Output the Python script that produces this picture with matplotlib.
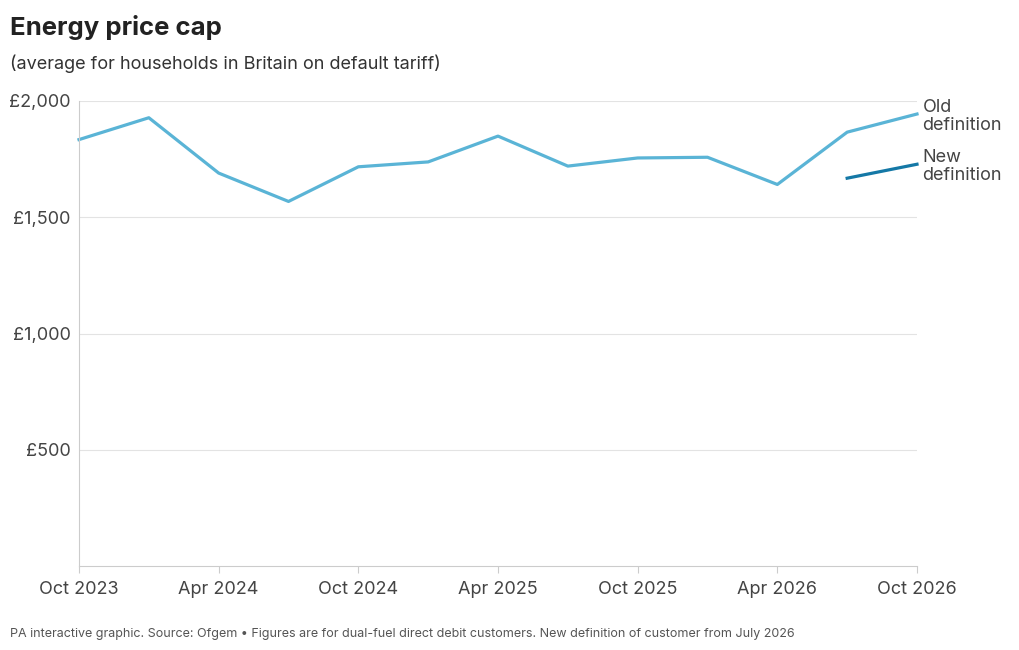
import matplotlib
matplotlib.use("Agg")
import matplotlib.pyplot as plt

plt.rcParams['font.family'] = ['Inter', 'DejaVu Sans']

quarters = ["Oct 2023", "Jan 2024", "Apr 2024", "Jul 2024", "Oct 2024", "Jan 2025",
            "Apr 2025", "Jul 2025", "Oct 2025", "Jan 2026", "Apr 2026", "Jul 2026", "Oct 2026"]
old_def = [1834, 1928, 1690, 1568, 1717, 1738, 1849, 1720, 1755, 1758, 1641, 1866, 1944]
new_def = [1668, 1728]
new_start = 11
tick_labels = ["Oct 2023", "Apr 2024", "Oct 2024", "Apr 2025", "Oct 2025", "Apr 2026", "Oct 2026"]
y_ticks = [500, 1000, 1500, 2000]
y_labels = ["£500", "£1,000", "£1,500", "£2,000"]

fig = plt.figure(figsize=(10.2, 6.5), dpi=100)
ax = fig.add_axes([79 / 1020, 1 - 566 / 650, (917 - 79) / 1020, (566 - 101) / 650])

x = list(range(len(old_def)))
ax.plot(x, old_def, color="#5ab4d6", lw=2.3, clip_on=False)
ax.plot(range(new_start, new_start + len(new_def)), new_def, color="#1478a6", lw=2.3, clip_on=False)

ax.set_xlim(0, len(old_def) - 1)
ax.set_ylim(0, 2000)
ax.set_yticks(y_ticks, y_labels)
ax.set_xticks([quarters.index(t) for t in tick_labels], tick_labels)
ax.grid(axis="y", color="#e3e3e3", lw=0.8)
ax.set_axisbelow(True)
for s in ["top", "right"]:
    ax.spines[s].set_visible(False)
for s in ["left", "bottom"]:
    ax.spines[s].set_color("#cccccc")
ax.tick_params(axis="y", length=0, pad=6, labelsize=13, labelcolor="#444444")
ax.tick_params(axis="x", length=5, color="#cccccc", pad=6, labelsize=13, labelcolor="#444444")

ax.text(12.08, old_def[-1] - 10, "Old\ndefinition", fontsize=13, color="#444444",
        va="center", ha="left", linespacing=1.05, clip_on=False)
ax.text(12.08, new_def[-1] - 10, "New\ndefinition", fontsize=13, color="#444444",
        va="center", ha="left", linespacing=1.05, clip_on=False)

fig.text(10 / 1020, 1 - 28 / 650, "Energy price cap", fontsize=18.5, fontweight="bold",
         color="#222222", va="center")
fig.text(10 / 1020, 1 - 64 / 650, "(average for households in Britain on default tariff)",
         fontsize=13, color="#333333", va="center")
fig.text(10 / 1020, 1 - 634 / 650,
         "PA interactive graphic. Source: Ofgem • Figures are for dual-fuel direct debit customers. "
         "New definition of customer from July 2026",
         fontsize=9, color="#555555", va="center")

fig.savefig("out.png", dpi=100)
